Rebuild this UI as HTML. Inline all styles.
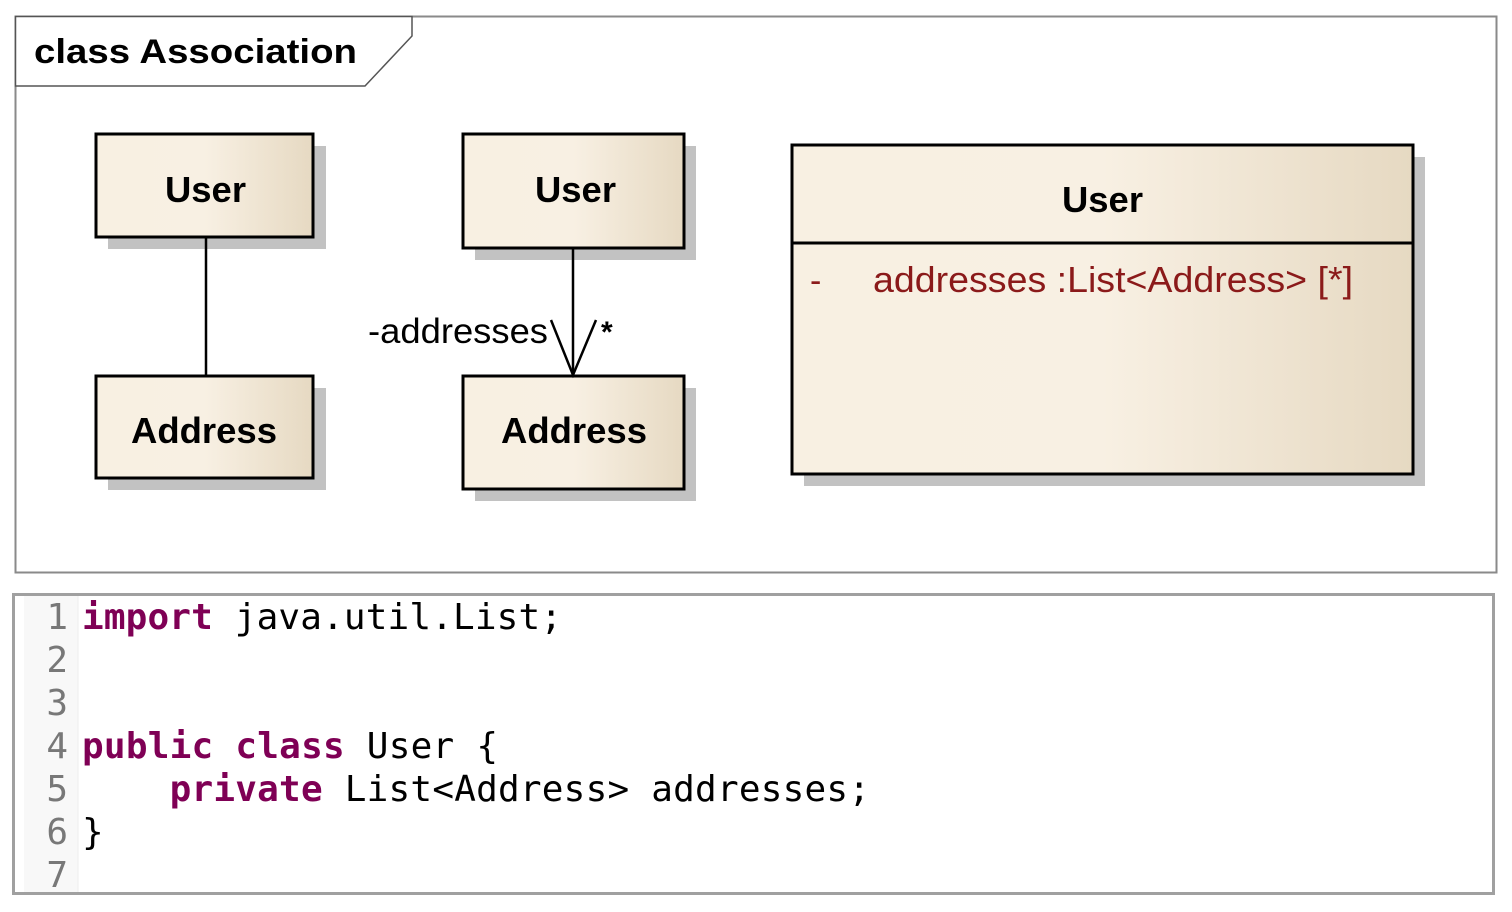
<!DOCTYPE html>
<html><head><meta charset="utf-8"><style>
html,body{margin:0;padding:0;background:#fff;width:1512px;height:912px;overflow:hidden}
svg{display:block}
</style></head><body>
<svg width="1512" height="912" viewBox="0 0 1512 912" xmlns="http://www.w3.org/2000/svg">
<defs>
<linearGradient id="g" x1="0" y1="0" x2="1" y2="0">
<stop offset="0" stop-color="#f8f0e2"/><stop offset="0.5" stop-color="#f8f0e3"/><stop offset="1" stop-color="#e6d9c2"/>
</linearGradient>
</defs>
<!-- frame -->
<rect x="15.5" y="16.5" width="1481" height="556" fill="#fff" stroke="#8a8a8a" stroke-width="2"/>
<polygon points="15.5,16.5 412,16.5 412,36 365,86 15.5,86" fill="#fff" stroke="#555" stroke-width="1.5"/>
<text x="34" y="63" font-family="Liberation Sans, sans-serif" font-weight="bold" font-size="34" fill="#000" textLength="323" lengthAdjust="spacingAndGlyphs">class Association</text>

<g font-family="Liberation Sans, sans-serif" font-weight="bold" font-size="36" fill="#000">
<!-- shadows -->
<rect x="108" y="146" width="218" height="103" fill="#c2c2c2"/>
<rect x="108" y="388" width="218" height="102" fill="#c2c2c2"/>
<rect x="475" y="146" width="221" height="114" fill="#c2c2c2"/>
<rect x="475" y="388" width="221" height="113" fill="#c2c2c2"/>
<rect x="804" y="157" width="621" height="329" fill="#c2c2c2"/>
<!-- boxes -->
<rect x="96" y="134" width="217" height="103" fill="url(#g)" stroke="#000" stroke-width="3"/>
<text x="165" y="202" textLength="81" lengthAdjust="spacingAndGlyphs">User</text>
<rect x="96" y="376" width="217" height="102" fill="url(#g)" stroke="#000" stroke-width="3"/>
<text x="131" y="443" textLength="146" lengthAdjust="spacingAndGlyphs">Address</text>
<rect x="463" y="134" width="221" height="114" fill="url(#g)" stroke="#000" stroke-width="3"/>
<text x="535" y="202" textLength="81" lengthAdjust="spacingAndGlyphs">User</text>
<rect x="463" y="376" width="221" height="113" fill="url(#g)" stroke="#000" stroke-width="3"/>
<text x="501" y="443" textLength="146" lengthAdjust="spacingAndGlyphs">Address</text>
<rect x="792" y="145" width="621" height="329" fill="url(#g)" stroke="#000" stroke-width="3"/>
<line x1="792" y1="243" x2="1413" y2="243" stroke="#000" stroke-width="3"/>
<text x="1062" y="212" textLength="81" lengthAdjust="spacingAndGlyphs">User</text>
</g>
<text x="810" y="292" font-family="Liberation Sans, sans-serif" font-size="34" fill="#8b1a1a">-</text>
<text x="873" y="292" font-family="Liberation Sans, sans-serif" font-size="36" fill="#8b1a1a" textLength="480" lengthAdjust="spacingAndGlyphs">addresses :List&lt;Address&gt; [*]</text>

<!-- connectors -->
<line x1="206" y1="238" x2="206" y2="376" stroke="#000" stroke-width="2.5"/>
<line x1="573" y1="249" x2="573" y2="376" stroke="#000" stroke-width="2.5"/>
<polyline points="551,320 573,375 596,320" fill="none" stroke="#000" stroke-width="2.5"/>
<text x="368" y="343" font-family="Liberation Sans, sans-serif" font-size="35" fill="#000" textLength="180" lengthAdjust="spacingAndGlyphs">-addresses</text>
<text x="601" y="342" font-family="Liberation Sans, sans-serif" font-weight="bold" font-size="30" fill="#000">*</text>

<!-- code box -->
<rect x="13.5" y="594.5" width="1480" height="299" fill="#fff" stroke="#a0a0a0" stroke-width="3"/>
<rect x="24" y="596" width="54" height="296" fill="#f8f8f8"/>
<line x1="78" y1="596" x2="78" y2="892" stroke="#eeeeee" stroke-width="1"/>
<g font-family="DejaVu Sans Mono, Liberation Mono, monospace" font-size="36">
<g fill="#787878" text-anchor="end">
<text x="68" y="629">1</text><text x="68" y="672">2</text><text x="68" y="715">3</text>
<text x="68" y="758">4</text><text x="68" y="801">5</text><text x="68" y="844">6</text><text x="68" y="887">7</text>
</g>
<text x="82" y="629" xml:space="preserve" fill="#000" textLength="480" lengthAdjust="spacing"><tspan fill="#7f0055" font-weight="bold">import</tspan> java.util.List;</text>
<text x="82" y="758" xml:space="preserve" fill="#000" textLength="416" lengthAdjust="spacing"><tspan fill="#7f0055" font-weight="bold">public</tspan> <tspan fill="#7f0055" font-weight="bold">class</tspan> User {</text>
<text x="82" y="801" xml:space="preserve" fill="#000" textLength="788" lengthAdjust="spacing">    <tspan fill="#7f0055" font-weight="bold">private</tspan> List&lt;Address&gt; addresses;</text>
<text x="82" y="844" fill="#000">}</text>
</g>
</svg>
</body></html>
